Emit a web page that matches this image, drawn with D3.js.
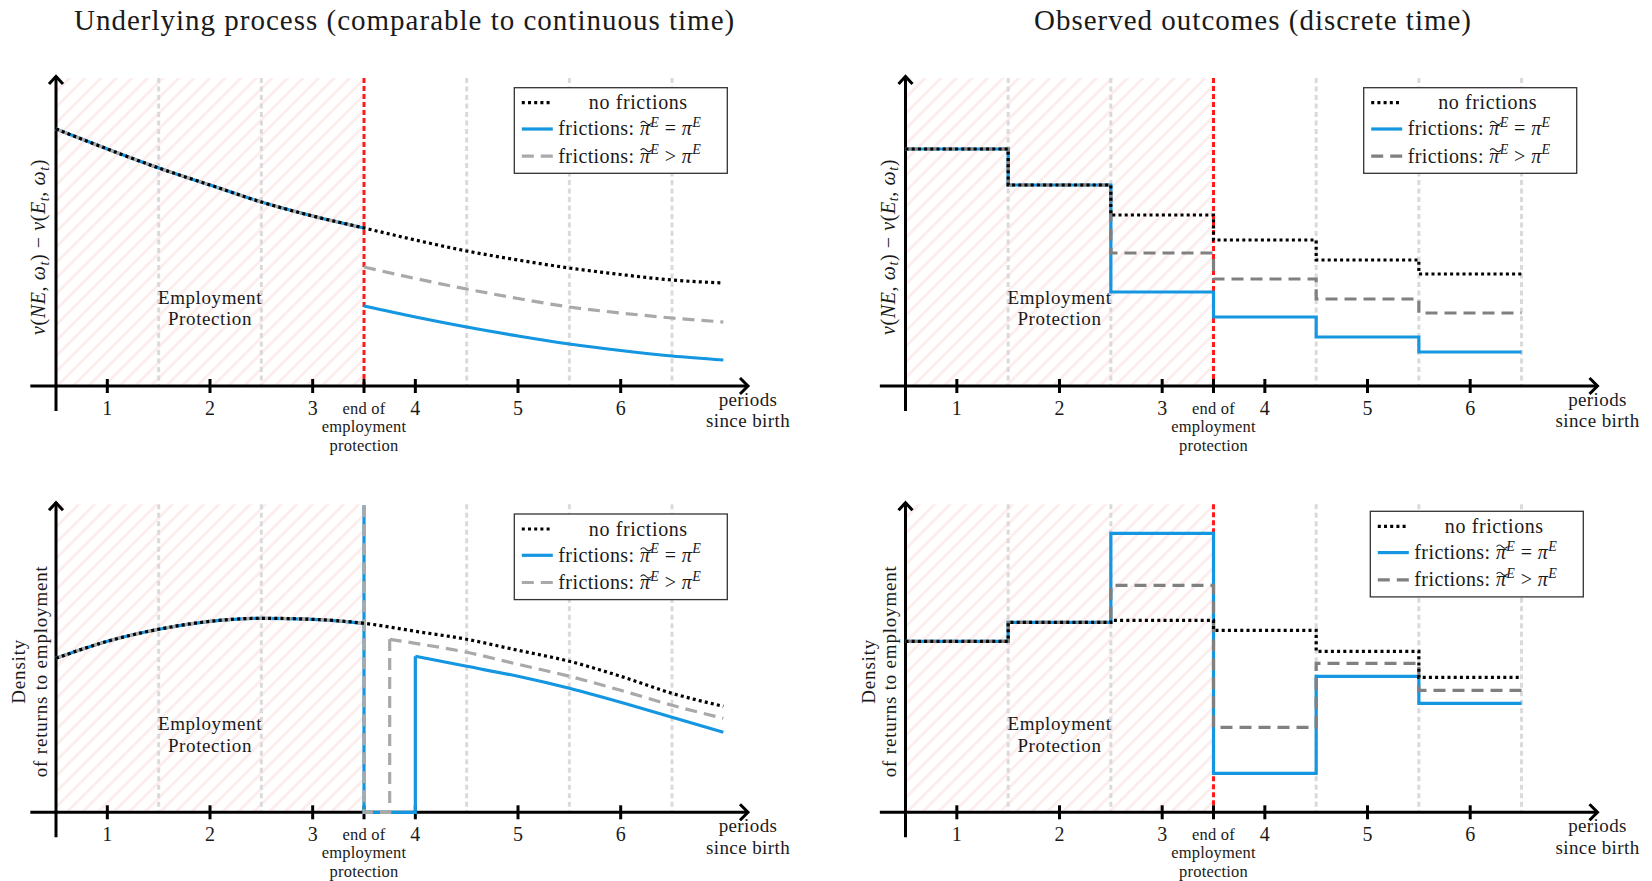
<!DOCTYPE html>
<html><head><meta charset="utf-8">
<script src="https://cdn.jsdelivr.net/npm/d3@7"></script>
<style>
body{margin:0;background:#fff}
svg text{font-family:"Liberation Serif","Times New Roman",serif;fill:#1a1a1a}
</style>
</head><body>
<svg id="chart" width="1652" height="881"></svg>
<script>
// ---------------- DATA ----------------
const tickValues = [1, 2, 3, 4, 5, 6];
const tickLabels = ["1", "2", "3", "4", "5", "6"];
const periodBoundaries = [1.5, 2.5, 4.5, 5.5, 6.5];
const protectionStart = 0.5, protectionEnd = 3.5;
const endLabelLines = ["end of", "employment", "protection"];
const xAxisTitleLines = ["periods", "since birth"];
const protectionLabelLines = ["Employment", "Protection"];
const densityLabelLines = ["Density", "of returns to employment"];
const panelTitles = ["Underlying process (comparable to continuous time)", "Observed outcomes (discrete time)"];
const legendLabels = ["no frictions", "frictions:", "frictions:"];

// periods of the discrete panels: [start, end)
const periodStarts = [0.5, 1.5, 2.5, 3.5, 4.5, 5.5];
const periodEnd = 6.5;

// Top-left: continuous value difference v(NE) - v(E)
const tPre = [0.5, 1.0, 1.5, 2.0, 2.5, 3.0, 3.5];
const tPost = [3.5, 4.0, 4.5, 5.0, 5.5, 6.0, 6.5, 7.0];
const valPre = [2.57, 2.37, 2.18, 2.01, 1.84, 1.70, 1.58];
const valNoFricPost = [1.58, 1.46, 1.35, 1.26, 1.18, 1.115, 1.06, 1.03];
const valFricGtPost = [1.19, 1.075, 0.97, 0.875, 0.79, 0.73, 0.68, 0.64];
const valFricEqPost = [0.80, 0.69, 0.59, 0.50, 0.42, 0.355, 0.30, 0.26];

// Top-right: observed value difference per period
const valStepNoFric = [2.37, 2.01, 1.71, 1.46, 1.26, 1.12];
const valStepFricGt = [2.37, 2.01, 1.33, 1.07, 0.87, 0.73];
const valStepFricEq = [2.37, 2.01, 0.94, 0.69, 0.49, 0.34];

// Bottom-left: continuous density of returns to employment
const denPre = [1.54, 1.71, 1.83, 1.91, 1.94, 1.93, 1.89];
const denNoFricPost = [1.89, 1.81, 1.73, 1.62, 1.51, 1.36, 1.19, 1.06];
const tFricGtPost = [3.75, 4.0, 4.5, 5.0, 5.5, 6.0, 6.5, 7.0];
const denFricGtPost = [1.73, 1.69, 1.60, 1.48, 1.36, 1.22, 1.07, 0.94];
const tFricEqPost = [4.0, 4.5, 5.0, 5.5, 6.0, 6.5, 7.0];
const denFricEqPost = [1.56, 1.46, 1.36, 1.24, 1.10, 0.95, 0.80];
const denSpike = 3.07;

// Bottom-right: observed density per period
const denStepNoFric = [1.71, 1.90, 1.92, 1.82, 1.61, 1.35];
const denStepFricGt = [1.71, 1.90, 2.27, 0.85, 1.49, 1.22];
const denStepFricEq = [1.71, 1.90, 2.79, 0.39, 1.36, 1.09];

// ---------------- STYLE ----------------
const BLUE = "#1496e0";
const GRAY_LIGHT = "#a9a9a9";
const GRAY_DARK = "#808080";
const LW = 3.2;
const yTop = 3.08;
const FS = 20;

const svg = d3.select("#chart");
const defs = svg.append("defs");
const pat = defs.append("pattern").attr("id", "hatch")
  .attr("patternUnits", "userSpaceOnUse").attr("width", 11).attr("height", 11)
  .attr("patternTransform", "rotate(45)");
pat.append("line").attr("x1", 5.5).attr("y1", 0).attr("x2", 5.5).attr("y2", 11)
  .attr("stroke", "#fdeeee").attr("stroke-width", 3);

function rich(textSel, segs, fs) {
  let off = 0;
  segs.forEach(s => {
    const ts = textSel.append("tspan").text(s.t);
    let target = 0;
    if (s.sub) target = 0.28 * fs;
    if (s.sup) target = -0.42 * fs;
    if (target !== off) { ts.attr("dy", target - off); off = target; }
    if (s.sub || s.sup) ts.attr("font-size", 0.7 * fs);
    if (s.i) ts.attr("font-style", "italic");
  });
}

function multiline(parent, lines, x, y, fs, lineH, ls) {
  const t = parent.append("text").attr("text-anchor", "middle").attr("font-size", fs)
    .attr("letter-spacing", ls);
  lines.forEach((s, i) => t.append("tspan").attr("x", x).attr("y", y + i * lineH).text(s));
  return t;
}

const yLabelValue = [
  {t: "v", i: true}, {t: "("}, {t: "NE", i: true}, {t: ", "}, {t: "ω", i: true}, {t: "t", i: true, sub: true},
  {t: ") − "}, {t: "v", i: true}, {t: "("}, {t: "E", i: true}, {t: "t", i: true, sub: true}, {t: ", "},
  {t: "ω", i: true}, {t: "t", i: true, sub: true}, {t: ")"}
];

function makePanel(cfg) {
  const g = svg.append("g");
  const x = d3.scaleLinear().domain([0.5, 7.25]).range([cfg.x0, cfg.x0 + 6.75 * 102.67]);
  const y = d3.scaleLinear().domain([0, yTop]).range([cfg.axisY, cfg.axisY - 308]);

  // hatched protection area
  g.append("rect").attr("x", x(protectionStart)).attr("y", y(yTop))
    .attr("width", x(protectionEnd) - x(protectionStart)).attr("height", y(0) - y(yTop))
    .attr("fill", "url(#hatch)");

  // period boundaries
  g.selectAll(".grid").data(periodBoundaries).join("line")
    .attr("x1", d => x(d)).attr("x2", d => x(d)).attr("y1", y(yTop)).attr("y2", y(0))
    .attr("stroke", "#dadada").attr("stroke-width", 3).attr("stroke-dasharray", "5,3.5");

  if (cfg.red) {
    g.append("line").attr("x1", x(protectionEnd)).attr("x2", x(protectionEnd))
      .attr("y1", y(yTop)).attr("y2", y(0))
      .attr("stroke", "#ff1a1a").attr("stroke-width", 3).attr("stroke-dasharray", "5,3");
  }

  // axes
  const ax = g.append("g").attr("stroke", "#000").attr("stroke-width", 3).attr("fill", "none");
  ax.append("line").attr("x1", x(0.25)).attr("x2", x(7.24)).attr("y1", y(0)).attr("y2", y(0));
  ax.append("path").attr("d", `M${x(7.24) - 8},${y(0) - 8} L${x(7.24)},${y(0)} L${x(7.24) - 8},${y(0) + 8}`);
  ax.append("line").attr("x1", x(0.5)).attr("x2", x(0.5)).attr("y1", y(0) + 25).attr("y2", y(yTop) - 2);
  ax.append("path").attr("d", `M${x(0.5) - 7},${y(yTop) + 6} L${x(0.5)},${y(yTop) - 1.5} L${x(0.5) + 7},${y(yTop) + 6}`);
  ax.selectAll(".tick").data(tickValues.concat([protectionEnd])).join("line")
    .attr("x1", d => x(d)).attr("x2", d => x(d)).attr("y1", y(0) - 7).attr("y2", y(0) + 7);

  g.selectAll(".tl").data(tickValues).join("text")
    .attr("x", d => x(d)).attr("y", y(0) + 29)
    .attr("text-anchor", "middle").attr("font-size", FS).text((d, i) => tickLabels[i]);
  multiline(g, endLabelLines, x(protectionEnd), y(0) + 27.5, 16.5, 18.5, 0.2);
  multiline(g, xAxisTitleLines, x(7.24), y(0) + 20, 19, 21.3, 0.4);
  multiline(g, protectionLabelLines, x(2.0), y(0) - 82, 19, 21.2, 0.6);

  // y label
  if (cfg.yLabel === "value") {
    const t = g.append("text").attr("transform", `translate(${cfg.x0 - 18},${cfg.axisY - 139}) rotate(-90)`)
      .attr("text-anchor", "middle").attr("dominant-baseline", "central").attr("font-size", FS).attr("letter-spacing", 0.6);
    rich(t, yLabelValue, FS);
  } else {
    const t = g.append("text").attr("transform", `translate(${cfg.x0 - 27},${cfg.axisY - 141}) rotate(-90)`)
      .attr("text-anchor", "middle").attr("dominant-baseline", "central").attr("font-size", 19)
      .attr("letter-spacing", 0.8);
    densityLabelLines.forEach((s, i) => t.append("tspan").attr("x", 0).attr("y", (i - 0.5) * 21.2).text(s));
  }

  const styles = {
    eq: {stroke: BLUE, dash: null},
    gt: {stroke: cfg.gray, dash: "12,7"},
    no: {stroke: "#000", dash: "3,3.2"}
  };
  function draw(pts, st, curve) {
    g.append("path").datum(pts)
      .attr("d", d3.line().x(d => x(d[0])).y(d => y(d[1])).curve(curve || d3.curveLinear))
      .attr("fill", "none").attr("stroke", styles[st].stroke).attr("stroke-width", LW)
      .attr("stroke-dasharray", styles[st].dash).attr("stroke-linejoin", "miter");
  }
  const zip = (a, b) => a.map((v, i) => [v, b[i]]);
  const steps = vals => periodStarts.map((s, i) => [s, vals[i]]).concat([[periodEnd, vals[vals.length - 1]]]);

  cfg.drawSeries(draw, zip, steps);

  // legend
  const L = g.append("g").attr("transform", `translate(${cfg.x0 + cfg.legX},${cfg.axisY + cfg.legY})`);
  L.append("rect").attr("width", 213).attr("height", 85.6).attr("fill", "#fff")
    .attr("stroke", "#333").attr("stroke-width", 1.3);
  const rows = [["no", 15], ["eq", 41.3], ["gt", 68.5]];
  rows.forEach(([k, ry]) => {
    L.append("line").attr("x1", 7.5).attr("x2", 38.5).attr("y1", ry).attr("y2", ry)
      .attr("stroke", styles[k].stroke).attr("stroke-width", LW).attr("stroke-dasharray", styles[k].dash);
  });
  L.append("text").attr("x", 124).attr("y", 15 + 6.5).attr("text-anchor", "middle")
    .attr("font-size", FS).attr("letter-spacing", 0.6).text(legendLabels[0]);
  [["=", 41.3, legendLabels[1]], [">", 68.5, legendLabels[2]]].forEach(([op, ry, lab]) => {
    const t = L.append("text").attr("x", 44).attr("y", ry + 6.5).attr("font-size", FS).attr("letter-spacing", 0.4);
    rich(t, [{t: lab + " "}, {t: "π", i: true}, {t: "E", i: true, sup: true}, {t: " " + op + " "},
             {t: "π", i: true}, {t: "E", i: true, sup: true}], FS);
    // wide tilde over the first pi
    const idx = (lab + " ").length;
    const ext = t.node().getExtentOfChar(idx);
    const cx = ext.x + ext.width / 2 + 1, ty = ry + 6.5 - 13.5;
    L.append("path").attr("d", `M${cx - 5.5},${ty + 1} q2.75,-3.2 5.5,0 t5.5,0`)
      .attr("fill", "none").attr("stroke", "#1a1a1a").attr("stroke-width", 1.1);
  });
}

makePanel({x0: 56, axisY: 386, red: true, gray: GRAY_LIGHT, yLabel: "value", legX: 458.3, legY: -298.3,
  drawSeries(draw, zip, steps) {
    draw(zip(tPre, valPre), "eq", d3.curveMonotoneX);
    draw(zip(tPost, valFricEqPost), "eq", d3.curveMonotoneX);
    draw(zip(tPre, valPre), "gt", d3.curveMonotoneX);
    draw(zip(tPost, valFricGtPost), "gt", d3.curveMonotoneX);
    draw(zip(tPre, valPre).concat(zip(tPost, valNoFricPost).slice(1)), "no", d3.curveMonotoneX);
  }});

makePanel({x0: 905.5, axisY: 386, red: true, gray: GRAY_DARK, yLabel: "value", legX: 458.2, legY: -298.3,
  drawSeries(draw, zip, steps) {
    draw(steps(valStepFricEq), "eq", d3.curveStepAfter);
    draw(steps(valStepFricGt), "gt", d3.curveStepAfter);
    draw(steps(valStepNoFric), "no", d3.curveStepAfter);
  }});

makePanel({x0: 56, axisY: 812.3, red: false, gray: GRAY_LIGHT, yLabel: "density", legX: 458.3, legY: -298.3,
  drawSeries(draw, zip, steps) {
    draw(zip(tPre, denPre), "eq", d3.curveMonotoneX);
    draw([[protectionEnd, denSpike], [protectionEnd, 0], [tFricEqPost[0], 0], [tFricEqPost[0], denFricEqPost[0]]], "eq");
    draw(zip(tFricEqPost, denFricEqPost), "eq", d3.curveMonotoneX);
    draw(zip(tPre, denPre), "gt", d3.curveMonotoneX);
    draw([[protectionEnd, denSpike], [protectionEnd, 0], [tFricGtPost[0], 0], [tFricGtPost[0], denFricGtPost[0]]], "gt");
    draw(zip(tFricGtPost, denFricGtPost), "gt", d3.curveMonotoneX);
    draw(zip(tPre, denPre).concat(zip(tPost, denNoFricPost).slice(1)), "no", d3.curveMonotoneX);
  }});

makePanel({x0: 905.5, axisY: 812.3, red: true, gray: GRAY_DARK, yLabel: "density", legX: 464.8, legY: -301,
  drawSeries(draw, zip, steps) {
    draw(steps(denStepFricEq), "eq", d3.curveStepAfter);
    draw(steps(denStepFricGt), "gt", d3.curveStepAfter);
    draw(steps(denStepNoFric), "no", d3.curveStepAfter);
  }});

// titles
svg.append("text").attr("x", 404.6).attr("y", 29.5).attr("text-anchor", "middle")
  .attr("font-size", 29).attr("letter-spacing", 1).text(panelTitles[0]);
svg.append("text").attr("x", 1253).attr("y", 29.5).attr("text-anchor", "middle")
  .attr("font-size", 29).attr("letter-spacing", 1).text(panelTitles[1]);
</script>
</body></html>
